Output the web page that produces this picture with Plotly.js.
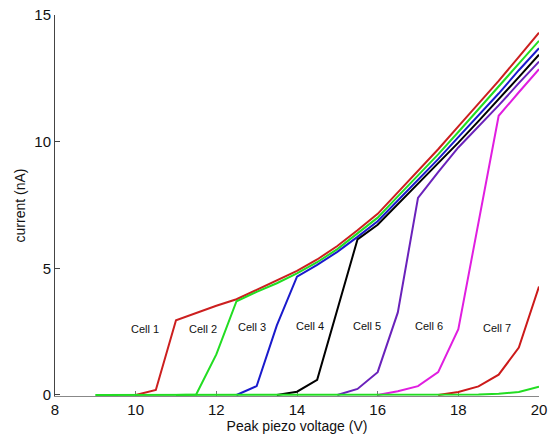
<!DOCTYPE html>
<html>
<head>
<meta charset="utf-8">
<script src="https://cdn.plot.ly/plotly-3.0.1.min.js"></script>
<style>html,body{margin:0;padding:0;background:#fff;}#chart{width:553px;height:434px;}</style>
</head>
<body>
<div id="chart"></div>
<script>
// Data
const cellNames = ["Cell 1", "Cell 2", "Cell 3", "Cell 4", "Cell 5", "Cell 6", "Cell 7"];

const cell1X = [10,10.5,11,11.5,12,12.5,13,13.5,14,14.5,15,15.5,16,16.5,17,17.5,18,18.5,19,19.5,20];
const cell1Y = [0,0.2,2.95,3.25,3.52,3.78,4.15,4.5,4.9,5.35,5.88,6.5,7.15,8.0,8.85,9.7,10.6,11.5,12.4,13.35,14.3];

const cell2X = [11,11.5,12,12.5,13,13.5,14,14.5,15,15.5,16,16.5,17,17.5,18,18.5,19,19.5,20];
const cell2Y = [0,0.02,1.6,3.7,4.07,4.41,4.8,5.24,5.76,6.37,7.0,7.84,8.67,9.5,10.38,11.27,12.15,13.08,13.98];

const cell3X = [12.5,13,13.5,14,14.5,15,15.5,16,16.5,17,17.5,18,18.5,19,19.5,20];
const cell3Y = [0,0.35,2.75,4.67,5.14,5.65,6.24,6.86,7.68,8.5,9.31,10.18,11.04,11.9,12.82,13.69];

const cell4X = [13.5,14,14.5,15,15.5,16,16.5,17,17.5,18,18.5,19,19.5,20];
const cell4Y = [0,0.13,0.6,3.4,6.14,6.72,7.52,8.32,9.12,9.96,10.81,11.66,12.55,13.43];

const cell5X = [15,15.5,16,16.5,17,17.5,18,18.5,19,19.5,20];
const cell5Y = [0,0.24,0.9,3.26,7.78,8.8,9.77,10.6,11.43,12.31,13.16];

const cell6X = [16,16.5,17,17.5,18,18.5,19,19.5,20];
const cell6Y = [0,0.15,0.35,0.9,2.6,6.8,11.02,11.95,12.86];

const cell7X = [17.5,18,18.5,19,19.5,20];
const cell7Y = [0,0.12,0.34,0.8,1.87,4.28];

const cell8X = [9,18,18.5,19,19.5,20];
const cell8Y = [0,0,0.02,0.05,0.12,0.33];

const xTicks = [8,10,12,14,16,18,20];
const yTicks = [0,5,10,15];

// Styles
const colors = ["#cc1f1f", "#22dd22", "#1a1acc", "#000000", "#6a22bb", "#e01ee0", "#cc1a1a", "#22dd22"];
const xs = [cell1X, cell2X, cell3X, cell4X, cell5X, cell6X, cell7X, cell8X];
const ys = [cell1Y, cell2Y, cell3Y, cell4Y, cell5Y, cell6Y, cell7Y, cell8Y];

const traces = xs.map((x, i) => ({
  x: x, y: ys[i], type: "scatter", mode: "lines",
  line: {color: colors[i], width: 2},
  hoverinfo: "skip", showlegend: false
}));

// label anchor positions (layout)
const labelPos = [[10.23,2.59],[11.66,2.62],[12.88,2.7],[14.32,2.73],[15.74,2.73],[17.28,2.73],[18.95,2.66]];
const annotations = cellNames.map((t, i) => ({
  x: labelPos[i][0], y: labelPos[i][1], xref: "x", yref: "y",
  text: t, showarrow: false,
  font: {family: "Liberation Sans, Arial, sans-serif", size: 11, color: "#111"}
}));

const layout = {
  width: 553, height: 434,
  margin: {l: 55, r: 14, t: 15, b: 38},
  paper_bgcolor: "#fff", plot_bgcolor: "#fff",
  font: {family: "Liberation Sans, Arial, sans-serif", color: "#111"},
  xaxis: {
    range: [8, 20], tickvals: xTicks, ticktext: xTicks.map(String),
    ticks: "inside", ticklen: 5, tickcolor: "#777", showgrid: false, zeroline: false,
    showline: true, linecolor: "#888", linewidth: 1, layer: "below traces",
    tickfont: {size: 15, color: "#111"},
    title: {text: "Peak piezo voltage (V)", font: {size: 14, color: "#111"}, standoff: 5}
  },
  yaxis: {
    range: [-0.04, 15], tickvals: yTicks, ticktext: yTicks.map(String),
    ticks: "inside", ticklen: 5, tickcolor: "#444", showgrid: false, zeroline: false,
    showline: true, linecolor: "#444", linewidth: 1,
    tickfont: {size: 15, color: "#111"},
    title: {text: "current (nA)", font: {size: 14, color: "#111"}, standoff: 5}
  },
  annotations: annotations
};

Plotly.newPlot("chart", traces, layout, {displayModeBar: false, staticPlot: true});
</script>
</body>
</html>
